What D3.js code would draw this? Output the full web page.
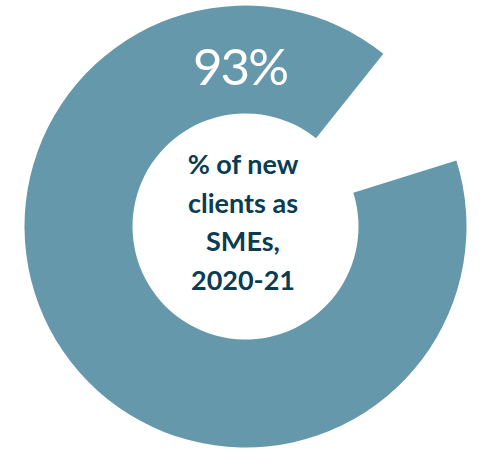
<!DOCTYPE html>
<html>
<head>
<meta charset="utf-8">
<script src="https://cdn.jsdelivr.net/npm/d3@7"></script>
<style>
  html, body { margin: 0; padding: 0; background: #ffffff; }
  svg { display: block; }
</style>
</head>
<body>
<svg id="chart" width="482" height="450"></svg>
<script>
// ---- data ----
const categories = ["SMEs", "Other"];
const values = [93, 7];
const valueLabel = "93%";
const centerLines = ["% of new", "clients as", "SMEs,", "2020-21"];
const colors = ["#6598aa", "#ffffff"];

// ---- layout ----
const width = 482, height = 450;
const cx = 245.5, cy = 226.5;
const outerR = 221, innerR = 113;
const deg = Math.PI / 180;
const trim = 4.4 * deg; // white edge eaten from the blue slice

const svg = d3.select("#chart");
const g = svg.append("g").attr("transform", `translate(${cx},${cy})`);

const pie = d3.pie().sort(null)
  .startAngle(68.2 * deg)
  .endAngle(68.2 * deg + 2 * Math.PI);
const arcs = pie(values);

const arc = d3.arc().innerRadius(innerR).outerRadius(outerR);

g.selectAll("path.slice")
  .data(arcs)
  .join("path")
  .attr("class", "slice")
  .attr("fill", (d, i) => colors[i])
  .attr("d", (d, i) => i === 0
    ? arc({ startAngle: d.startAngle + trim, endAngle: d.endAngle - trim })
    : arc(d));

// value label
svg.append("text")
  .attr("x", 240)
  .attr("y", 85)
  .attr("text-anchor", "middle")
  .attr("fill", "#ffffff")
  .style("font-family", "Lato, 'Open Sans', sans-serif")
  .style("font-weight", 400)
  .style("font-size", "51px")
  .style("letter-spacing", "-2px")
  .text(valueLabel);

// center text
const lineY = d3.scaleLinear().domain([0, centerLines.length - 1]).range([174, 290]);
svg.append("g")
  .selectAll("text")
  .data(centerLines)
  .join("text")
  .attr("x", 243)
  .attr("y", (d, i) => lineY(i))
  .attr("text-anchor", "middle")
  .attr("fill", "#0b3c51")
  .style("font-family", "Lato, 'Open Sans', sans-serif")
  .style("font-weight", 700)
  .style("font-size", "27px")
  .text(d => d);
</script>
</body>
</html>
